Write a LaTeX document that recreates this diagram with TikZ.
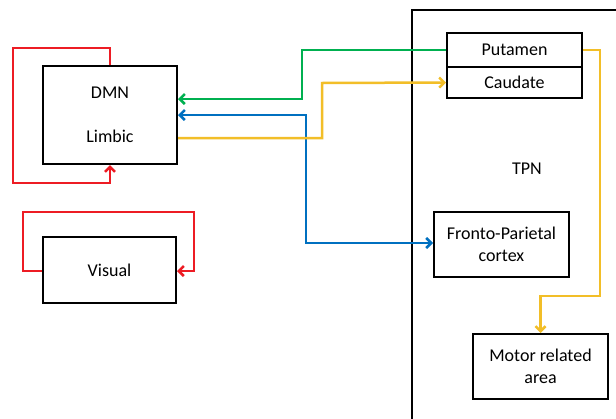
\documentclass[tikz,border=0pt]{standalone}
\usepackage{fontspec}
\setmainfont{Carlito}
\usetikzlibrary{arrows.meta}
\definecolor{cred}{RGB}{237,28,36}
\definecolor{cgreen}{RGB}{0,176,80}
\definecolor{cblue}{RGB}{0,112,192}
\definecolor{cgold}{RGB}{242,190,40}
\tikzset{
  box/.style={draw=black, line width=2pt, rectangle, inner sep=0pt, align=center,
    font=\fontsize{18}{22}\selectfont},
  conn/.style={line width=2.5pt, line join=miter, -{Straight Barb[length=5pt,width=10pt,line width=2.5pt]}},
  conn2/.style={line width=2.5pt, line join=miter, {Straight Barb[length=5pt,width=10pt,line width=2.5pt]}-{Straight Barb[length=5pt,width=10pt,line width=2.5pt]}},
  lbl/.style={font=\fontsize{18}{22}\selectfont, inner sep=0pt}
}
\begin{document}
\begin{tikzpicture}[x=1pt, y=-1pt]
\clip (0,0) rectangle (616,418);
\fill[white] (0,0) rectangle (616,418);
% TPN frame
\node[draw=black, line width=2pt, minimum width=260pt, minimum height=460pt, anchor=north west, inner sep=0pt] (frame) at (411,9) {};
\node[lbl] (tpn) at (527,169) {TPN};
% boxes
\node[box, minimum width=134pt, minimum height=98pt] (dmn) at (110,115) {DMN\\[22pt]Limbic};
\node[box, minimum width=133pt, minimum height=66pt] (visual) at (109.5,270) {Visual};
\node[box, minimum width=135pt, minimum height=34pt] (putamen) at (514.5,50) {Putamen};
\node[box, minimum width=135pt, minimum height=31pt] (caudate) at (514.5,82.5) {Caudate};
\node[box, minimum width=135pt, minimum height=65pt] (fp) at (501.5,244.5) {Fronto-Parietal\\cortex};
\node[box, minimum width=135pt, minimum height=65pt] (motor) at (540.5,366.5) {Motor related\\area};
% red loops
\draw[conn, cred] (dmn.north) -- (dmn.north |- 0,48) -- (13,48) -- (13,183) -- (dmn.south |- 0,183) -- (dmn.south);
\draw[conn, cred] (visual.west |- 0,271) -- (23,271) -- (23,212) -- (194,212) -- (194,271) -- (visual.east |- 0,271);
% green
\draw[conn, cgreen] (putamen.west) -- (302,50) -- (302,99) -- (dmn.east |- 0,99);
% blue
\draw[conn2, cblue] (dmn.east) -- (306,115) -- (306,243) -- (fp.west |- 0,243);
% yellow
\draw[conn, cgold] (dmn.east |- 0,138) -- (322,138) -- (322,83) -- (caudate.west);
\draw[conn, cgold] (putamen.east) -- (600,50) -- (600,296) -- (motor.north |- 0,296) -- (motor.north);
\end{tikzpicture}
\end{document}
